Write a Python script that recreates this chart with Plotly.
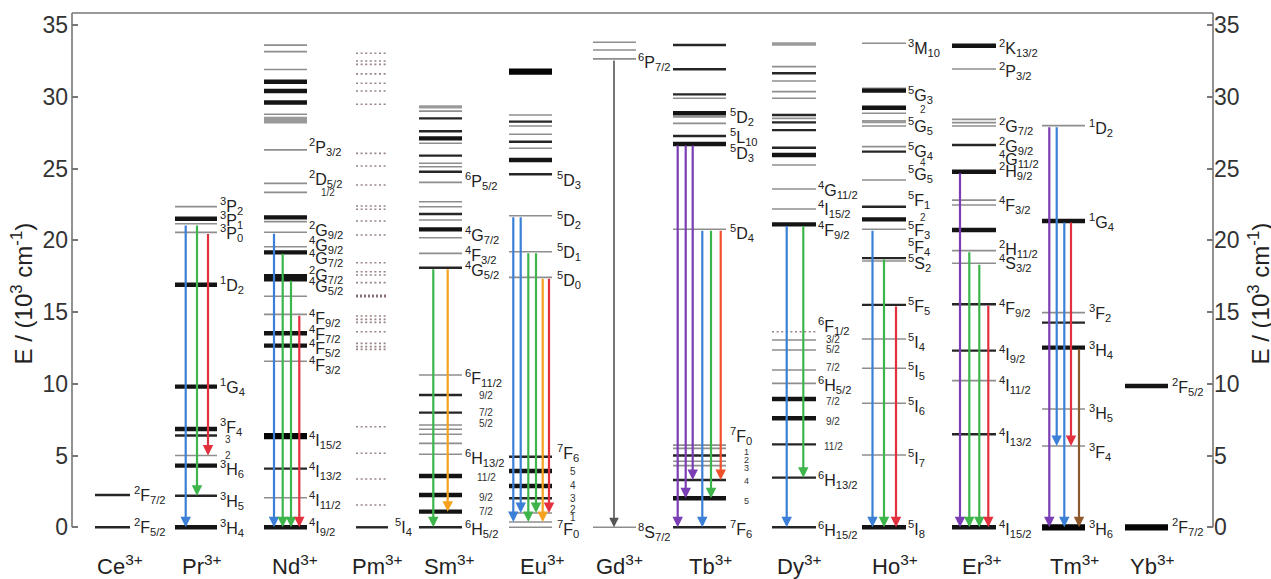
import re
import plotly.graph_objects as go

# ---------------- data (energies in 10^3 cm^-1) ----------------
ions = ["Ce", "Pr", "Nd", "Pm", "Sm", "Eu", "Gd", "Tb", "Dy", "Ho", "Er", "Tm", "Yb"]

ce_E = [2.25, 0.0]
ce_kind = ["b", "b"]
ce_labels = ["2F7/2", "2F5/2"]
ce_label_E = [2.25, 0.0]
ce_arrows = []

pr_E = [22.35, 21.5, 21.15, 20.55, 16.9, 9.8, 6.85, 6.4, 5.0, 4.3, 2.2, 0.0]
pr_kind = ["g", "k", "g", "g", "k", "k", "k", "b", "g", "k", "b", "k"]
pr_labels = ["3P2", "3P1", "3P0", "1D2", "1G4", "3F4", "3", "2", "3H6", "3H5", "3H4"]
pr_label_E = [22.4, 21.45, 20.5, 16.9, 9.8, 7.0, 6.1, 5.0, 4.05, 1.85, -0.05]
pr_arrows = [(21.13, 0.0, "blue"), (21.13, 2.2, "green"), (20.55, 5.0, "red")]

nd_E = [33.6, 33.15, 31.9, 31.05, 30.4, 29.6, 28.78, 28.5, 28.26, 26.3, 23.97, 23.34,
        21.6, 21.3, 20.56, 19.55, 19.16, 17.5, 17.28, 16.1, 14.84, 13.52, 12.66, 11.57,
        6.35, 4.09, 2.06, 0.0]
nd_kind = ["g", "g", "g", "k", "k", "k", "g", "G", "G", "g", "g", "g",
           "k", "g", "g", "g", "k", "k", "k", "g", "g", "k", "k", "g",
           "K", "b", "g", "k"]
nd_labels = ["2P3/2", "2D5/2", "1/2", "2G9/2", "4G9/2", "4G7/2", "2G7/2", "4G5/2",
             "4F9/2", "4F7/2", "4F5/2", "4F3/2", "4I15/2", "4I13/2", "4I11/2", "4I9/2"]
nd_label_E = [26.5, 24.3, 23.3, 20.7, 19.7, 18.75, 17.6, 16.85,
              14.6, 13.5, 12.5, 11.3, 6.1, 3.9, 1.9, 0.0]
nd_arrows = [(20.56, 0.0, "blue"), (19.16, 0.0, "green"), (17.28, 0.0, "green"), (14.84, 0.0, "red")]

pm_E = [33.03, 32.5, 32.26, 31.6, 30.94, 30.4, 29.48, 26.06, 25.18, 23.85, 22.39, 22.16,
        21.35, 20.37, 18.44, 17.81, 17.58, 17.05, 16.12, 14.72, 14.49, 14.28, 13.63,
        12.82, 12.59, 12.4, 7.01, 5.16, 3.37, 1.55, 0.0]
pm_kind = ["d"] * 18 + ["D"] + ["d"] * 11 + ["b"]
pm_labels = ["5I4"]
pm_label_E = [0.0]
pm_arrows = []

sm_E = [29.3, 29.0, 28.5, 27.6, 27.1, 26.76, 25.9, 25.37, 25.13, 24.78, 24.04, 22.69,
        22.34, 21.83, 21.41, 20.76, 20.18, 19.09, 18.09, 10.61, 9.22, 7.99, 7.13, 6.83,
        6.48, 5.85, 5.09, 3.57, 2.25, 1.09, 0.0]
sm_kind = ["G", "g", "b", "b", "k", "g", "b", "g", "g", "b", "g", "g",
           "g", "b", "g", "k", "g", "g", "b", "g", "b", "b", "g", "g",
           "g", "g", "g", "k", "k", "k", "b"]
sm_labels = ["6P5/2", "4G7/2", "4F3/2", "4G5/2", "6F11/2", "9/2", "7/2", "5/2",
             "6H13/2", "11/2", "9/2", "7/2", "6H5/2"]
sm_label_E = [24.1, 20.4, 19.0, 17.9, 10.4, 9.2, 8.0, 7.2, 4.8, 3.5, 2.1, 1.1, -0.1]
sm_arrows = [(18.09, 0.0, "green"), (18.09, 1.09, "orange")]

eu_E = [31.75, 28.73, 28.27, 27.97, 27.39, 26.87, 26.41, 25.6, 24.6, 21.71, 19.2, 17.42,
        4.92, 3.92, 2.88, 2.02, 1.0, 0.37, 0.0]
eu_kind = ["K", "g", "b", "g", "g", "b", "g", "k", "b", "g", "g", "g",
           "b", "k", "k", "b", "g", "g", "g"]
eu_labels = ["5D3", "5D2", "5D1", "5D0", "7F6", "5", "4", "3", "2", "1", "7F0"]
eu_label_E = [24.2, 21.4, 19.2, 17.2, 5.16, 3.9, 2.9, 2.0, 1.25, 0.7, -0.1]
eu_arrows = [(21.71, 0.37, "blue"), (21.71, 1.0, "blue"), (19.2, 0.37, "green"),
             (19.2, 1.0, "green"), (17.42, 0.37, "orange"), (17.42, 1.0, "red")]

gd_E = [33.8, 33.26, 32.64, 0.0]
gd_kind = ["g", "g", "g", "g"]
gd_labels = ["6P7/2", "8S7/2"]
gd_label_E = [32.45, -0.3]
gd_arrows = [(32.64, 0.0, "gray")]

tb_E = [33.61, 31.92, 30.17, 29.9, 28.85, 28.6, 28.15, 27.27, 26.71, 20.77,
        5.73, 5.5, 5.0, 4.6, 4.3, 3.3, 2.02, 0.0]
tb_kind = ["b", "b", "b", "g", "k", "g", "g", "b", "k", "g",
           "g", "g", "b", "g", "g", "b", "k", "b"]
tb_labels = ["5D2", "5L10", "5D3", "5D4", "7F0", "1", "2", "3", "4", "5", "7F6"]
tb_label_E = [28.6, 27.2, 26.06, 20.5, 6.35, 5.25, 4.7, 4.15, 3.2, 1.85, -0.1]
tb_arrows = [(26.71, 0.0, "purple"), (26.71, 2.02, "purple"), (26.71, 3.3, "purple"),
             (20.77, 0.0, "blue"), (20.77, 2.02, "green"), (20.77, 3.3, "redorange")]

dy_E = [33.68, 32.1, 31.64, 31.1, 30.36, 29.9, 28.73, 28.5, 28.22, 27.68, 26.45, 25.94,
        25.25, 23.57, 22.18, 21.11, 13.63, 13.05, 12.36, 10.96, 10.03, 8.94, 7.6, 5.78,
        3.46, 0.0]
dy_kind = ["G", "g", "b", "g", "g", "g", "b", "g", "b", "b", "b", "k",
           "g", "g", "g", "k", "d", "g", "g", "g", "g", "k", "k", "b",
           "b", "b"]
dy_labels = ["4G11/2", "4I15/2", "4F9/2", "6F1/2", "3/2", "5/2", "7/2", "6H5/2",
             "7/2", "9/2", "11/2", "6H13/2", "6H15/2"]
dy_label_E = [23.5, 22.2, 20.7, 14.0, 13.1, 12.4, 11.15, 9.9, 8.75, 7.36, 5.6, 3.3, -0.2]
dy_arrows = [(21.11, 0.0, "blue"), (21.11, 3.46, "green")]

ho_E = [33.73, 30.6, 30.43, 29.24, 28.85, 28.27, 27.97, 26.53, 26.18, 24.2, 22.34, 21.46,
        20.77, 18.76, 18.56, 15.5, 13.12, 11.08, 8.64, 5.04, 0.0]
ho_kind = ["g", "g", "k", "k", "g", "G", "g", "g", "b", "g", "b", "k",
           "g", "b", "g", "b", "g", "g", "g", "g", "k"]
ho_labels = ["3M10", "5G3", "2", "5G5", "5G4", "4", "5G5", "5F1", "2", "5F3", "5F4", "5S2",
             "5F5", "5I4", "5I5", "5I6", "5I7", "5I8"]
ho_label_E = [33.4, 30.1, 29.1, 28.0, 26.25, 25.45, 24.6, 22.8, 21.6, 20.7, 19.5, 18.45,
              15.4, 12.9, 10.9, 8.45, 4.85, -0.15]
ho_arrows = [(20.77, 0.0, "blue"), (18.76, 0.0, "green"), (15.5, 0.0, "red")]

er_E = [33.56, 31.94, 28.43, 28.2, 27.97, 26.64, 24.78, 22.8, 22.46, 20.72, 19.28, 18.4,
        15.54, 12.31, 10.22, 6.48, 0.0]
er_kind = ["k", "g", "g", "g", "g", "b", "k", "g", "g", "k", "g", "g",
           "b", "b", "g", "b", "k"]
er_labels = ["2K13/2", "2P3/2", "2G7/2", "2G9/2", "4G11/2", "2H9/2", "4F3/2", "2H11/2",
             "4S3/2", "4F9/2", "4I9/2", "4I11/2", "4I13/2", "4I15/2"]
er_label_E = [33.4, 31.8, 28.0, 26.6, 25.7, 24.85, 22.46, 19.4, 18.4, 15.3, 12.1, 9.9, 6.3, -0.1]
er_arrows = [(24.78, 0.0, "purple"), (19.28, 0.0, "green"), (18.4, 0.0, "green"), (15.54, 0.0, "red")]

tm_E = [27.99, 21.35, 14.96, 14.26, 12.52, 8.24, 5.67, 0.0]
tm_kind = ["g", "k", "g", "b", "k", "g", "g", "K"]
tm_labels = ["1D2", "1G4", "3F2", "3H4", "3H5", "3F4", "3H6"]
tm_label_E = [27.8, 21.3, 14.9, 12.36, 7.95, 5.27, -0.1]
tm_arrows = [(27.99, 0.0, "purple"), (27.99, 5.67, "blue"), (21.35, 0.0, "blue"),
             (21.35, 5.67, "red"), (12.52, 0.0, "brown")]

yb_E = [9.85, 0.0]
yb_kind = ["k", "K"]
yb_labels = ["2F5/2", "2F7/2"]
yb_label_E = [9.8, 0.0]
yb_arrows = []

y_ticks = [0, 5, 10, 15, 20, 25, 30, 35]
y_title = "E / (10<sup>3</sup> cm<sup>-1</sup>)"

# ---------------- layout / style ----------------
COL = {"Ce": (95, 130), "Pr": (175, 217), "Nd": (264, 307), "Pm": (356, 388),
       "Sm": (419, 462), "Eu": (509, 552), "Gd": (593, 636), "Tb": (673, 726),
       "Dy": (772, 816), "Ho": (862, 906), "Er": (952, 996), "Tm": (1042, 1085),
       "Yb": (1125, 1168)}
ARROW_X = {"Pr": [185.7, 197, 208], "Nd": [274, 282.7, 291, 299.3], "Sm": [433.3, 447.7],
           "Eu": [513.3, 520.7, 528.3, 536, 542.7, 549], "Gd": [614],
           "Tb": [677.7, 685.7, 692.7, 702.3, 711, 720.7], "Dy": [786.7, 803.3],
           "Ho": [872.5, 884, 896], "Er": [960, 969.3, 979.3, 988.3],
           "Tm": [1049.3, 1056.7, 1064.3, 1071, 1079]}
LABEL_DX = {"Ce": 2, "Pr": 1, "Nd": 0, "Pm": 5, "Sm": 1, "Eu": 3, "Gd": 0, "Tb": 2,
            "Dy": 0, "Ho": 0, "Er": 1, "Tm": 2, "Yb": 2}
SMALL_DX = {"Pr": 11, "Nd": 21, "Sm": 24, "Eu": 21, "Tb": 20, "Dy": 17, "Ho": 17}
SMALL_SIZE = {"Tb": 9}
ION_X = {"Ce": 120, "Pr": 202, "Nd": 295, "Pm": 377, "Sm": 449, "Eu": 542, "Gd": 619,
         "Tb": 710, "Dy": 799, "Ho": 895, "Er": 982, "Tm": 1074, "Yb": 1152}
KIND = {"g": dict(color="#8e8e8e", width=1.6),
        "G": dict(color="#9a9a9a", width=3.4),
        "b": dict(color="#262626", width=2.4),
        "k": dict(color="#141414", width=4.4),
        "K": dict(color="#050505", width=6.2),
        "d": dict(color="#9a8484", width=1.6, dash="2px,2.6px"),
        "D": dict(color="#8a7070", width=3.2, dash="2px,2px")}
ARROW_COL = {"blue": "#3b7fd6", "green": "#3db54b", "red": "#e2303f", "orange": "#f5a21e",
             "purple": "#7a3db4", "brown": "#8e5a2c", "gray": "#555555", "redorange": "#f0502a"}
FONT = "Liberation Sans, Arial, Helvetica, sans-serif"

W, H = 1271, 579
ML, MR, MT, MB = 72, 58, 13, 0
Y_TOP = 35.84
PX_PER_UNIT = 14.35
Y_MIN = Y_TOP - (H - MT - MB) / PX_PER_UNIT

data = {
    "Ce": (ce_E, ce_kind, ce_labels, ce_label_E, ce_arrows),
    "Pr": (pr_E, pr_kind, pr_labels, pr_label_E, pr_arrows),
    "Nd": (nd_E, nd_kind, nd_labels, nd_label_E, nd_arrows),
    "Pm": (pm_E, pm_kind, pm_labels, pm_label_E, pm_arrows),
    "Sm": (sm_E, sm_kind, sm_labels, sm_label_E, sm_arrows),
    "Eu": (eu_E, eu_kind, eu_labels, eu_label_E, eu_arrows),
    "Gd": (gd_E, gd_kind, gd_labels, gd_label_E, gd_arrows),
    "Tb": (tb_E, tb_kind, tb_labels, tb_label_E, tb_arrows),
    "Dy": (dy_E, dy_kind, dy_labels, dy_label_E, dy_arrows),
    "Ho": (ho_E, ho_kind, ho_labels, ho_label_E, ho_arrows),
    "Er": (er_E, er_kind, er_labels, er_label_E, er_arrows),
    "Tm": (tm_E, tm_kind, tm_labels, tm_label_E, tm_arrows),
    "Yb": (yb_E, yb_kind, yb_labels, yb_label_E, yb_arrows),
}

fig = go.Figure()

# level lines grouped by style
for kind in ["g", "G", "d", "D", "b", "k", "K"]:
    xs, ys = [], []
    for ion in ions:
        E, kinds = data[ion][0], data[ion][1]
        x0, x1 = COL[ion]
        for e, k in zip(E, kinds):
            if k == kind:
                xs += [x0, x1, None]
                ys += [e, e, None]
    if xs:
        fig.add_trace(go.Scatter(x=xs, y=ys, mode="lines", line=KIND[kind],
                                 hoverinfo="skip", showlegend=False))

# invisible trace for right axis
fig.add_trace(go.Scatter(x=[None], y=[None], yaxis="y2", showlegend=False, hoverinfo="skip"))

ann = []
# arrows
for ion in ions:
    arrows = data[ion][4]
    for (e0, e1, c), xa in zip(arrows, ARROW_X.get(ion, [])):
        w = 1.6 if c == "gray" else 2.2
        ann.append(dict(x=xa, y=e1, ax=xa, ay=e0, xref="x", yref="y", axref="x", ayref="y",
                        text="", showarrow=True, arrowhead=2, arrowsize=0.95 if c != "gray" else 1.2,
                        arrowwidth=w, arrowcolor=ARROW_COL[c], standoff=0, startstandoff=0))

term_re = re.compile(r"^(\d)([A-Z])(.+)$")
for ion in ions:
    labels, label_E = data[ion][2], data[ion][3]
    x1 = COL[ion][1]
    for s, e in zip(labels, label_E):
        m = term_re.match(s)
        if m:
            txt = f"<sup>{m.group(1)}</sup>{m.group(2)}<sub>{m.group(3)}</sub>"
            ann.append(dict(x=x1 + LABEL_DX[ion], y=e, xref="x", yref="y", text=txt,
                            showarrow=False, xanchor="left", yanchor="middle",
                            font=dict(family=FONT, size=16, color="#222")))
        else:
            ann.append(dict(x=x1 + SMALL_DX[ion], y=e, xref="x", yref="y", text=s,
                            showarrow=False, xanchor="center", yanchor="middle",
                            font=dict(family=FONT, size=SMALL_SIZE.get(ion, 10), color="#333")))

# ion names
for ion in ions:
    ann.append(dict(x=ION_X[ion], y=-2.63, xref="x", yref="y", text=f"{ion}<sup>3+</sup>",
                    showarrow=False, xanchor="center", yanchor="middle",
                    font=dict(family=FONT, size=22, color="#222")))

# axis titles
pw = W - ML - MR
for xp in [(22 - ML) / pw, (1259 - ML) / pw]:
    ann.append(dict(x=xp, y=16.3, xref="paper", yref="y", text=y_title, textangle=-90,
                    showarrow=False, xanchor="center", yanchor="middle",
                    font=dict(family=FONT, size=24, color="#222")))

# frame (axes stop at E = 0)
p0 = (0 - Y_MIN) / (Y_TOP - Y_MIN)
frame = dict(color="#777777", width=1.6)
shapes = [
    dict(type="line", xref="paper", yref="paper", x0=0, x1=0, y0=p0, y1=1, line=frame),
    dict(type="line", xref="paper", yref="paper", x0=1, x1=1, y0=p0, y1=1, line=frame),
    dict(type="line", xref="paper", yref="paper", x0=0, x1=1, y0=1, y1=1, line=frame),
]

yax = dict(range=[Y_MIN, Y_TOP], tickvals=y_ticks, ticks="inside", ticklen=6, tickwidth=1.5,
           tickcolor="#777", showgrid=False, zeroline=False, showline=False,
           tickfont=dict(family=FONT, size=23, color="#333"), fixedrange=True)
fig.update_layout(
    width=W, height=H, margin=dict(l=ML, r=MR, t=MT, b=MB),
    paper_bgcolor="white", plot_bgcolor="white",
    xaxis=dict(range=[ML, W - MR], visible=False, fixedrange=True),
    yaxis=dict(**yax, side="left", ticklabelstandoff=3),
    yaxis2=dict(**yax, side="right", overlaying="y"),
    annotations=ann, shapes=shapes, showlegend=False,
)

fig.write_html("out.html", config={"displayModeBar": False},
               post_script="document.body.style.margin='0';document.body.style.overflow='hidden';")
